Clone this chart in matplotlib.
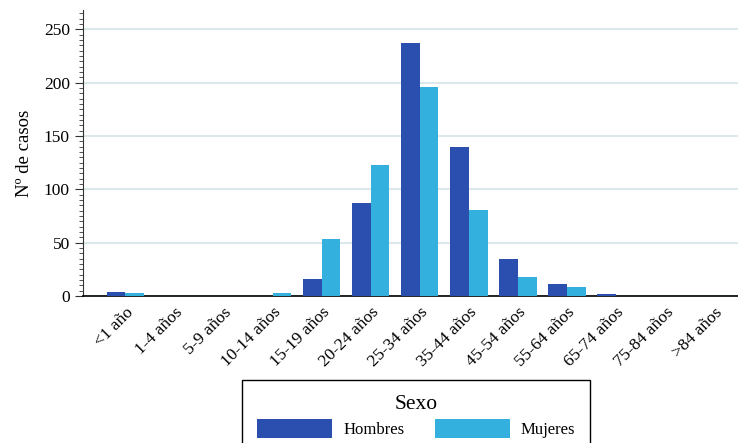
import numpy as np
import matplotlib.pyplot as plt
from matplotlib.ticker import MultipleLocator

plt.rcParams['font.family'] = ['Liberation Serif', 'DejaVu Serif']

grupos = ['<1 año', '1-4 años', '5-9 años', '10-14 años', '15-19 años', '20-24 años',
          '25-34 años', '35-44 años', '45-54 años', '55-64 años', '65-74 años',
          '75-84 años', '>84 años']
hombres = [4, 0, 0, 0, 16, 87, 237, 140, 35, 11, 2, 0, 0]
mujeres = [3, 0, 0, 3, 53, 123, 196, 81, 18, 8, 0, 0, 0]

col_h = '#2a4fae'
col_m = '#33b0de'

fig = plt.figure(figsize=(7.38, 4.43), dpi=100)
ax = fig.add_axes([0.1125, 0.332, 0.9, 0.645])

x = np.arange(len(grupos))
w = 0.38
ax.bar(x - w / 2, hombres, w, color=col_h, label='Hombres', zorder=3)
ax.bar(x + w / 2, mujeres, w, color=col_m, label='Mujeres', zorder=3)

ax.set_xlim(-0.86, 12.67)
ax.set_ylim(0, 268)
ax.yaxis.set_major_locator(MultipleLocator(50))
ax.yaxis.set_minor_locator(MultipleLocator(5))
ax.grid(axis='y', color='#dbe9ec', linewidth=1.5, zorder=0)
ax.set_axisbelow(True)

ax.set_xticks(x)
ax.set_xticklabels(grupos, rotation=45, ha='right', rotation_mode='anchor', fontsize=12.5)
ax.tick_params(axis='x', length=0, pad=6)
ax.tick_params(axis='y', which='major', length=6, labelsize=12.5, color='#333333')
ax.tick_params(axis='y', which='minor', length=3, color='#333333')

for s in ['top', 'right']:
    ax.spines[s].set_visible(False)
ax.spines['left'].set_color('#333333')
ax.spines['bottom'].set_color('black')
ax.spines['bottom'].set_linewidth(1.2)

ax.set_ylabel('Nº de casos', fontsize=13.5, labelpad=8)

handles, labels = ax.get_legend_handles_labels()
leg = fig.legend(handles, labels, title='Sexo', loc='upper center',
                 bbox_to_anchor=(0.564, 0.142), ncol=2, fontsize=12,
                 title_fontsize=15.5, handlelength=4.5, handleheight=1.35,
                 handletextpad=0.66, columnspacing=1.8, fancybox=False,
                 edgecolor='black', framealpha=1, borderpad=0.9,
                 borderaxespad=0, labelspacing=0.3)
leg.get_frame().set_linewidth(1)

fig.savefig('out.png', dpi=100)
